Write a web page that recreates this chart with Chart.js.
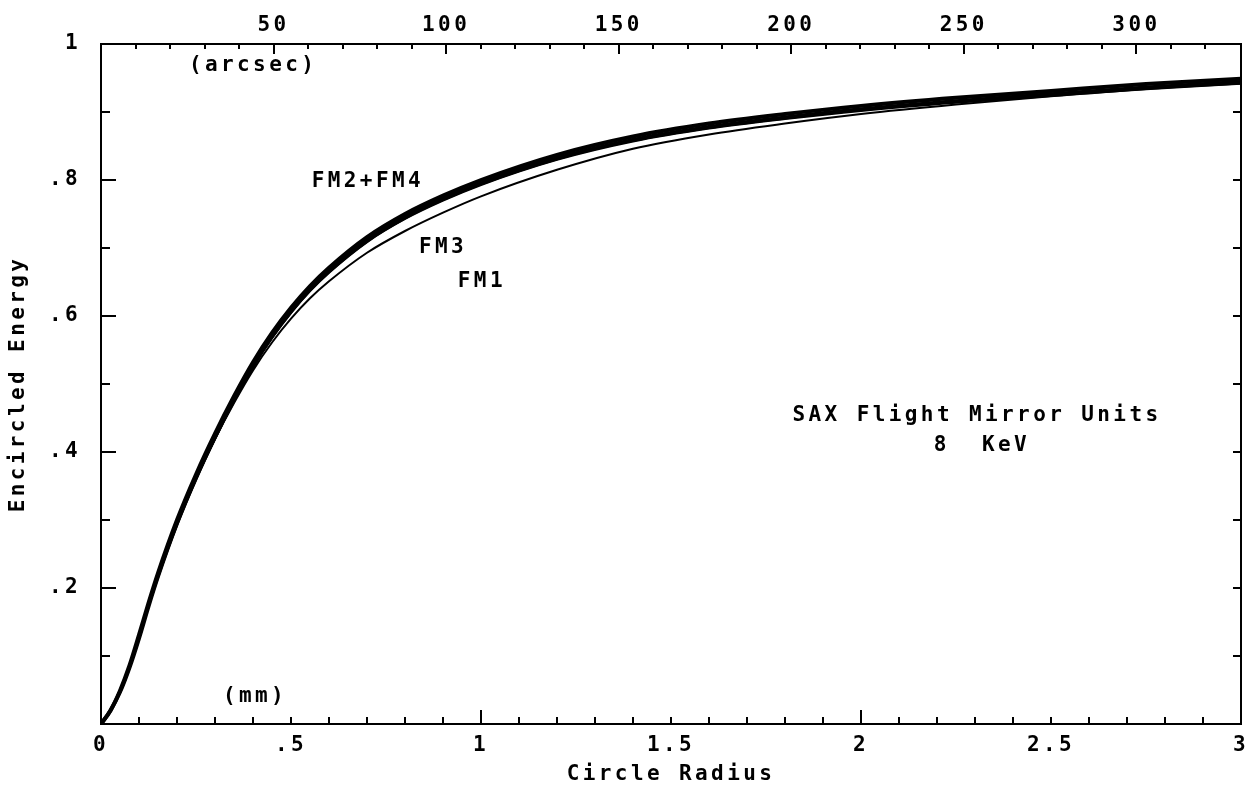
<!DOCTYPE html>
<html>
<head>
<meta charset="utf-8">
<script src="https://cdn.jsdelivr.net/npm/chart.js@4/dist/chart.umd.min.js"></script>
<style>
  html, body { margin: 0; padding: 0; background: #fff; }
  #wrap { width: 1260px; height: 791px; }
</style>
</head>
<body>
<div id="wrap"><canvas id="c" width="1260" height="791"></canvas></div>
<script>
// ---- data (circle radius in mm, encircled energy fraction) ----
const radiusMM = [0, 0.025, 0.05, 0.075, 0.1, 0.125, 0.15, 0.2, 0.25, 0.3, 0.35, 0.4, 0.45, 0.5, 0.55, 0.6, 0.7, 0.8, 0.9, 1.0, 1.2, 1.4, 1.6, 1.8, 2.0, 2.25, 2.5, 2.75, 3.0];
const fm2 = [0, 0.020, 0.049, 0.086, 0.131, 0.178, 0.222, 0.300, 0.367, 0.427, 0.482, 0.532, 0.575, 0.612, 0.644, 0.671, 0.716, 0.750, 0.777, 0.800, 0.837, 0.864, 0.883, 0.897, 0.909, 0.921, 0.931, 0.941, 0.949];
const fm4 = [0, 0.020, 0.047, 0.083, 0.126, 0.173, 0.217, 0.295, 0.362, 0.422, 0.477, 0.527, 0.570, 0.607, 0.639, 0.666, 0.711, 0.745, 0.772, 0.795, 0.832, 0.859, 0.878, 0.892, 0.904, 0.916, 0.926, 0.936, 0.944];
const fm3 = [0, 0.020, 0.047, 0.083, 0.126, 0.173, 0.216, 0.293, 0.360, 0.420, 0.475, 0.525, 0.568, 0.605, 0.637, 0.664, 0.709, 0.743, 0.770, 0.793, 0.830, 0.857, 0.876, 0.890, 0.902, 0.914, 0.924, 0.934, 0.942];
const fm1 = [0, 0.020, 0.047, 0.083, 0.126, 0.173, 0.216, 0.293, 0.360, 0.419, 0.472, 0.520, 0.561, 0.596, 0.626, 0.651, 0.693, 0.725, 0.752, 0.776, 0.815, 0.846, 0.867, 0.883, 0.897, 0.911, 0.923, 0.934, 0.942];

// ---- axes ----
const xMinorTicks = [0.1,0.2,0.3,0.4,0.5,0.6,0.7,0.8,0.9,1.1,1.2,1.3,1.4,1.5,1.6,1.7,1.8,1.9,2.1,2.2,2.3,2.4,2.5,2.6,2.7,2.8,2.9];
const xMajorTicks = [1, 2];
const arcsecMax = 330.3;
const arcsecLabels = [50, 100, 150, 200, 250, 300];
const arcsecMinor = [10,20,30,40,60,70,80,90,110,120,130,140,160,170,180,190,210,220,230,240,260,270,280,290,310,320];
const yMinorTicks = [0.1, 0.3, 0.5, 0.7, 0.9];
const yMajorTicks = [0.2, 0.4, 0.6, 0.8];
const yRightTicks = [0.1,0.2,0.3,0.4,0.5,0.6,0.7,0.8,0.9];

// ---- annotations (text, x in mm, y in energy) ----
const notes = [
  { text: 'FM2+FM4', x: 0.697, y: 0.797 },
  { text: 'FM3', x: 0.895, y: 0.700 },
  { text: 'FM1', x: 0.997, y: 0.650 },
  { text: 'SAX Flight Mirror Units', x: 2.30, y: 0.454 },
  { text: '8  KeV', x: 2.313, y: 0.410 },
  { text: '(arcsec)', x: 0.395, y: 0.968 },
  { text: '(mm)', x: 0.40, y: 0.040 }
];

const FONT = "'DejaVu Sans Mono', 'Liberation Mono', monospace";
const SPACING = '3.4px';
Chart.defaults.font.family = FONT;
Chart.defaults.font.size = 21;
Chart.defaults.font.weight = 'bold';
Chart.defaults.color = '#000';

function pts(ys) { return radiusMM.map((x, i) => ({ x: x, y: ys[i] })); }

function fmtDec(v) {
  const r = Math.round(v * 10) / 10;
  if (r === 0) return '0';
  if (r < 1) return String(r).replace(/^0\./, '.');
  return String(r);
}

const tickPlugin = {
  id: 'inwardTicks',
  beforeDraw(chart) {
    chart.ctx.letterSpacing = SPACING;
  },
  afterDatasetsDraw(chart) {
    const ctx = chart.ctx;
    const a = chart.chartArea;
    const sx = chart.scales.x, sy = chart.scales.y, sx2 = chart.scales.x2;
    ctx.save();
    ctx.strokeStyle = '#000';
    ctx.lineWidth = 2;
    ctx.beginPath();
    const vline = (px, y0, y1) => { ctx.moveTo(Math.round(px), y0); ctx.lineTo(Math.round(px), y1); };
    const hline = (py, x0, x1) => { ctx.moveTo(x0, Math.round(py)); ctx.lineTo(x1, Math.round(py)); };
    xMinorTicks.forEach(v => vline(sx.getPixelForValue(v), a.bottom, a.bottom - 7));
    xMajorTicks.forEach(v => vline(sx.getPixelForValue(v), a.bottom, a.bottom - 14));
    arcsecMinor.forEach(v => vline(sx2.getPixelForValue(v), a.top, a.top + 5));
    arcsecLabels.forEach(v => vline(sx2.getPixelForValue(v), a.top, a.top + 10));
    yMinorTicks.forEach(v => hline(sy.getPixelForValue(v), a.left, a.left + 9));
    yMajorTicks.forEach(v => hline(sy.getPixelForValue(v), a.left, a.left + 15));
    yRightTicks.forEach(v => hline(sy.getPixelForValue(v), a.right, a.right - 8));
    ctx.stroke();
    ctx.restore();
  },
  afterDraw(chart) {
    const ctx = chart.ctx;
    const sx = chart.scales.x, sy = chart.scales.y;
    ctx.save();
    ctx.letterSpacing = SPACING;
    ctx.fillStyle = '#000';
    ctx.font = 'bold 21px ' + FONT;
    ctx.textAlign = 'center';
    ctx.textBaseline = 'middle';
    notes.forEach(n => {
      ctx.fillText(n.text, sx.getPixelForValue(n.x) + 2, sy.getPixelForValue(n.y));
    });
    ctx.restore();
  }
};

const lineDs = (label, ys, w) => ({
  label: label,
  data: pts(ys),
  borderColor: '#000',
  borderWidth: w,
  pointRadius: 0,
  fill: false,
  cubicInterpolationMode: 'monotone'
});

new Chart(document.getElementById('c'), {
  type: 'line',
  data: {
    datasets: [
      lineDs('FM1', fm1, 2),
      lineDs('FM3', fm3, 2.5),
      lineDs('FM4', fm4, 4),
      lineDs('FM2', fm2, 4)
    ]
  },
  options: {
    responsive: false,
    devicePixelRatio: 1,
    animation: false,
    layout: { padding: 0 },
    plugins: { legend: { display: false }, tooltip: { enabled: false } },
    scales: {
      x: {
        type: 'linear', position: 'bottom', min: 0, max: 3,
        grid: { display: false, drawTicks: false },
        border: { display: true, color: '#000', width: 2 },
        ticks: { stepSize: 0.5, padding: 9, maxRotation: 0, autoSkip: false, callback: v => fmtDec(v) },
        title: { display: true, text: 'Circle Radius', padding: { top: 4, bottom: 4 } },
        afterFit: s => { s.height = 67; }
      },
      x2: {
        type: 'linear', position: 'top', min: 0, max: arcsecMax,
        grid: { display: false, drawTicks: false },
        border: { display: true, color: '#000', width: 2 },
        ticks: { padding: 6, maxRotation: 0, autoSkip: false, callback: v => String(v) },
        afterBuildTicks: s => { s.ticks = arcsecLabels.map(v => ({ value: v })); },
        afterFit: s => { s.height = 44; }
      },
      y: {
        type: 'linear', position: 'left', min: 0, max: 1,
        grid: { display: false, drawTicks: false },
        border: { display: true, color: '#000', width: 2 },
        ticks: { stepSize: 0.2, padding: 20, callback: v => (Math.round(v * 10) === 0 ? '' : fmtDec(v)) },
        title: { display: true, text: 'Encircled Energy', padding: { top: 6, bottom: 6 } },
        afterFit: s => { s.width = 101; }
      },
      y2: {
        type: 'linear', position: 'right', min: 0, max: 1,
        grid: { display: false, drawTicks: false },
        border: { display: true, color: '#000', width: 2 },
        ticks: { display: false },
        afterFit: s => { s.width = 19; }
      }
    }
  },
  plugins: [tickPlugin]
});
</script>
</body>
</html>
